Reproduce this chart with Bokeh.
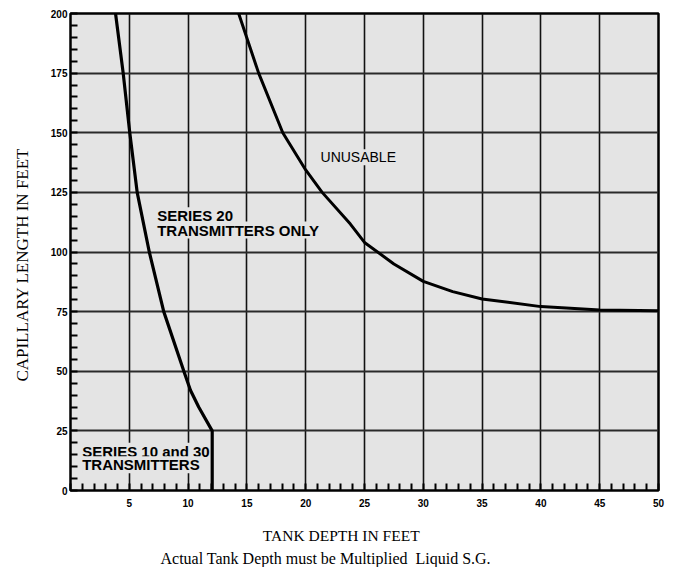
from bokeh.plotting import figure
from bokeh.models import Range1d, SingleIntervalTicker, Label, Title
from bokeh.embed import file_html
from bokeh.resources import INLINE

# ---- data ----
series20_x = [3.83, 4.48, 5.04, 5.67, 6.7, 7.93, 9.64, 10.2, 10.9, 12.05, 12.05]
series20_y = [200, 175, 150, 125, 100, 75, 50, 42, 35, 25, 0]

unusable_x = [14.3, 16.0, 18.05, 20.0, 21.4, 23.8, 25.0, 27.5, 30.0, 32.5, 35.0, 40.0, 45.0, 50.0]
unusable_y = [200, 175, 150, 134.4, 125, 111.7, 104, 95, 87.7, 83.4, 80.3, 77.1, 75.7, 75.4]

x_interval = 5
y_interval = 25

BG = "#e4e4e4"
NB = "\u00a0"

p = figure(width=666, height=567, output_backend="svg", toolbar_location=None,
           x_range=Range1d(0, 50), y_range=Range1d(0, 200),
           min_border_left=70, min_border_right=8, min_border_top=13, min_border_bottom=77)

p.background_fill_color = BG
p.border_fill_color = "white"
p.outline_line_color = "black"
p.outline_line_width = 2.5

p.xaxis.ticker = SingleIntervalTicker(interval=x_interval, num_minor_ticks=5)
p.yaxis.ticker = SingleIntervalTicker(interval=y_interval, num_minor_ticks=5)
p.xgrid.ticker = SingleIntervalTicker(interval=x_interval)
p.ygrid.ticker = SingleIntervalTicker(interval=y_interval)

p.xgrid.grid_line_color = "#111111"
p.xgrid.grid_line_width = 1.6
p.ygrid.grid_line_color = "#2a2a2a"
p.ygrid.grid_line_width = 1.8

for ax in (p.xaxis, p.yaxis):
    ax.axis_line_color = None
    ax.major_tick_in = 0
    ax.major_tick_out = 0
    ax.minor_tick_in = 7
    ax.minor_tick_out = 0
    ax.minor_tick_line_color = "black"
    ax.minor_tick_line_width = 2
    ax.major_label_text_font = "Liberation Sans"
    ax.major_label_text_font_style = "bold"
    ax.major_label_text_font_size = "10px"
    ax.major_label_text_color = "black"
    ax.axis_label_text_font = "Liberation Serif"
    ax.axis_label_text_font_style = "normal"
    ax.axis_label_text_color = "black"

p.xaxis.major_label_standoff = 8
p.yaxis.major_label_standoff = 3
p.xaxis.major_label_overrides = {0: ""}

# axis titles
p.yaxis.axis_label = "CAPILLARY LENGTH IN FEET" + NB * 6
p.yaxis.axis_label_text_font_size = "17px"
p.yaxis.axis_label_standoff = 16

p.xaxis.axis_label = "TANK DEPTH IN FEET" + NB * 12
p.xaxis.axis_label_text_font_size = "15.5px"
p.xaxis.axis_label_standoff = 17

p.line(series20_x, series20_y, line_color="black", line_width=3.2, line_join="round")
p.line(unusable_x, unusable_y, line_color="black", line_width=3.0, line_join="round")

def add_label(x, y, text, size, style="bold"):
    lab = Label(x=x, y=y, text=text, text_font="Liberation Sans", text_font_size=size,
                text_font_style=style, text_color="black", text_align="left",
                text_baseline="middle", background_fill_color=BG)
    p.add_layout(lab)

add_label(21.26, 139.7, "UNUSABLE", "14px", style="normal")
add_label(7.37, 115.2, "SERIES 20", "15px")
add_label(7.37, 109.2, "TRANSMITTERS ONLY", "15px")
add_label(0.99, 16.5, "SERIES 10 and 30", "15px")
add_label(0.99, 10.8, "TRANSMITTERS", "15px")

t2 = Title(text="Actual Tank Depth must be Multiplied" + NB + " Liquid S.G.", align="left",
           offset=90, standoff=2, text_font="Liberation Serif", text_font_style="normal",
           text_font_size="16px", text_color="black")
p.add_layout(t2, "below")

open("out.html", "w").write(file_html(p, INLINE))
